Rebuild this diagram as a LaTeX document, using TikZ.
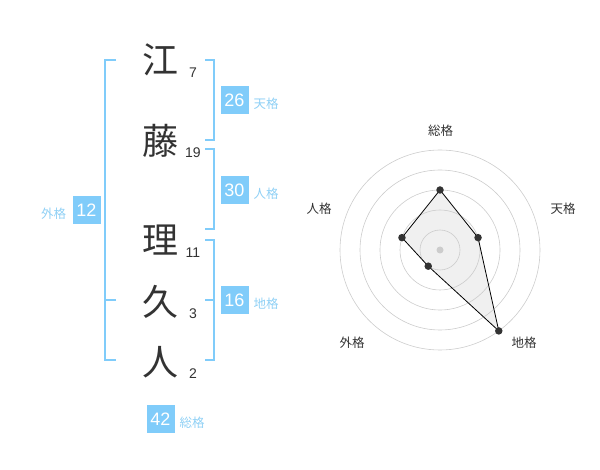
\documentclass[tikz,border=0pt]{standalone}
\usepackage{fontspec}
\setmainfont{Liberation Sans}
\newfontfamily\jp{Noto Sans CJK JP}
\definecolor{skyb}{HTML}{80CCFA}
\definecolor{skyt}{HTML}{8FD0F5}
\definecolor{ink}{HTML}{333333}
\definecolor{ring}{HTML}{CCCCCC}
\begin{document}
\begin{tikzpicture}[x=1pt,y=-1pt,
  kanji/.style={font=\jp\fontsize{36}{36}\selectfont,text=ink,inner sep=0pt},
  stroke/.style={font=\fontsize{14}{14}\selectfont,text=ink,inner sep=0pt},
  valbox/.style={fill=skyb,text=white,minimum width=28pt,minimum height=28pt,inner sep=0pt,font=\fontsize{18}{18}\selectfont},
  kakulabel/.style={font=\jp\fontsize{12.5}{12.5}\selectfont,text=skyt,inner sep=0pt},
  brk/.style={draw=skyb,line width=2pt},
  radlabel/.style={font=\jp\fontsize{12.5}{12.5}\selectfont,text=ink,inner sep=0pt},
  ringc/.style={draw=ring,line width=0.6pt},
  dot/.style={circle,fill=ink,minimum size=7.5pt,inner sep=0pt}]
\useasboundingbox (0,0) rectangle (600,470);
% kanji
\node[kanji] (k1) at (160,60) {江};
\node[kanji] (k2) at (160,141) {藤};
\node[kanji] (k3) at (160,240) {理};
\node[kanji] (k4) at (160,302) {久};
\node[kanji] (k5) at (160,362) {人};
\node[stroke] (s1) at (193,73) {7};
\node[stroke] (s2) at (193,153) {19};
\node[stroke] (s3) at (193,253) {11};
\node[stroke] (s4) at (193,313.5) {3};
\node[stroke] (s5) at (193,374) {2};
% brackets
\coordinate (la) at (116,60); \coordinate (lb) at (116,360); \coordinate (lm) at (116,300);
\draw[brk] (la) -- (105,60) -- (105,360) -- (lb);
\draw[brk] (lm) -- (105,300);
\coordinate (r1a) at (205,60); \coordinate (r1b) at (205,140);
\draw[brk] (r1a) -- (214,60) -- (214,140) -- (r1b);
\coordinate (r2a) at (205,149.5); \coordinate (r2b) at (205,229);
\draw[brk] (r2a) -- (214,149.5) -- (214,229) -- (r2b);
\coordinate (r3a) at (205,240); \coordinate (r3b) at (205,360); \coordinate (r3m) at (205,300);
\draw[brk] (r3a) -- (214,240) -- (214,360) -- (r3b);
\draw[brk] (r3m) -- (214,300);
% value boxes
\node[valbox] (ten) at (234.5,100.5) {26};
\node[kakulabel] (tenl) at (266,104) {天格};
\node[valbox] (jin) at (234.5,190) {30};
\node[kakulabel] (jinl) at (266,193.5) {人格};
\node[valbox] (chi) at (234.5,300) {16};
\node[kakulabel] (chil) at (266,303.5) {地格};
\node[valbox] (gai) at (86.5,210) {12};
\node[kakulabel] (gail) at (53.5,213.5) {外格};
\node[valbox] (sou) at (160.5,419) {42};
\node[kakulabel] (soul) at (192,422.5) {総格};
% radar
\foreach \r in {20,40,60,80,100} \draw[ringc] (440,250) circle (\r);
\coordinate (pS) at (440,190);
\coordinate (pT) at ({440+40*cos(18)},{250-40*sin(18)});
\coordinate (pC) at ({440+100*cos(54)},{250+100*sin(54)});
\coordinate (pG) at ({440-20*cos(54)},{250+20*sin(54)});
\coordinate (pJ) at ({440-40*cos(18)},{250-40*sin(18)});
\fill[black!20,opacity=0.3] (pS) -- (pT) -- (pC) -- (pG) -- (pJ) -- cycle;
\draw[black,line width=0.8pt,line join=miter] (pS) -- (pT) -- (pC) -- (pG) -- (pJ) -- cycle;
\node[circle,fill=ring,minimum size=7pt,inner sep=0pt] (ctr) at (440,250) {};
\node[dot] (dS) at (pS) {};
\node[dot] (dT) at (pT) {};
\node[dot] (dC) at (pC) {};
\node[dot] (dG) at (pG) {};
\node[dot] (dJ) at (pJ) {};
\node[radlabel] (lS) at (440.5,130.5) {総格};
\node[radlabel] (lT) at (563,208.5) {天格};
\node[radlabel] (lC) at (524,342.5) {地格};
\node[radlabel] (lG) at (352,342.5) {外格};
\node[radlabel] (lJ) at (319,208.5) {人格};
\end{tikzpicture}
\end{document}
